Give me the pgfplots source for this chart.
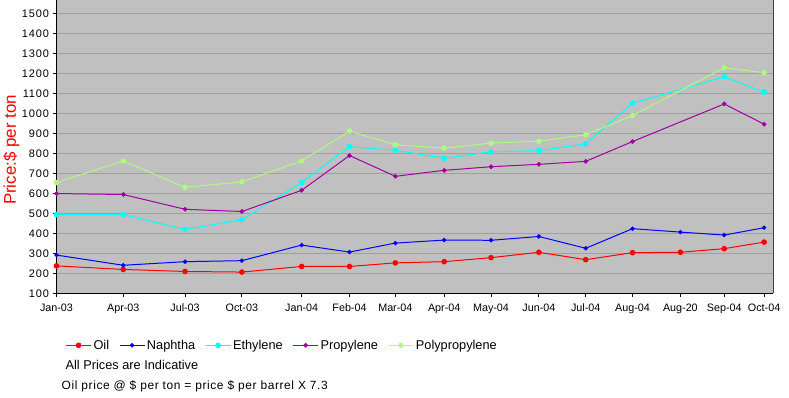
\documentclass[border=0pt]{standalone}
\usepackage{pgfplots}
\pgfplotsset{compat=1.18}
\usepackage{fontspec}
\setmainfont{Liberation Sans}
\newfontfamily\lsfont[LetterSpace=8]{Liberation Sans}
\newfontfamily\lsbfont[LetterSpace=5]{Liberation Sans}
\definecolor{bg}{RGB}{192,192,192}
\definecolor{gridc}{RGB}{160,160,160}
\definecolor{oilc}{RGB}{255,0,0}
\definecolor{napc}{RGB}{0,0,255}
\definecolor{ethc}{RGB}{0,255,255}
\definecolor{proc}{RGB}{160,0,160}
\definecolor{polc}{RGB}{176,250,128}
\begin{document}
\begin{tikzpicture}
\begin{axis}[
  scale only axis,
  width=719pt, height=294pt,
  xmin=54, xmax=773,
  ymin=100, ymax=1566,
  axis background/.style={fill=bg},
  axis x line*=bottom, axis y line*=left,
  axis line style={black, line width=0.9pt},
  xtick={54,121,183,240,300,348,394,443,490,538,585,632,680,724,764},
  xticklabels={Jan-03,Apr-03,Jul-03,Oct-03,Jan-04,Feb-04,Mar-04,Apr-04,May-04,Jun-04,Jul-04,Aug-04,Aug-20,Sep-04,Oct-04},
  ytick={100,200,...,1500},
  tick align=outside,
  major tick length=4pt,
  tick style={black, line width=0.8pt},
  ymajorgrids,
  grid style={gridc, line width=0.9pt},
  xticklabel style={font=\fontsize{10.8}{12}\selectfont, yshift=-3pt},
  yticklabel style={font=\lsfont\fontsize{11}{12}\selectfont},
  /pgf/number format/assume math mode=true,
  /pgf/number format/1000 sep={},
  ylabel={Price:\$ per ton},
  ylabel style={font=\fontsize{17}{19}\selectfont, text=red, at={(axis description cs:-0.063,0.49)}, anchor=center},
  legend columns=5,
  legend style={draw=none, fill=none, at={(axis description cs:0.0083,-0.177)}, anchor=west,
    font=\fontsize{12.8}{14}\selectfont,
    /tikz/every even column/.append style={column sep=8pt}},
  legend cell align=left,
  legend image code/.code={\draw[#1] (0pt,0pt) -- (25pt,0pt); \draw[#1, mark repeat=2, mark phase=2] plot coordinates {(0pt,0pt) (12.5pt,0pt) (25pt,0pt)};},
  clip=false,
]
\addplot[oilc, line width=1pt, mark=*, mark size=2.3pt] coordinates {
(54,238) (121,220) (183,210) (240,207) (300,235) (348,235) (394,253) (443,259) (490,279) (538,306) (585,269) (632,304) (680,306) (724,324) (764,357)};
\addlegendentry{Oil}
\addplot[napc, line width=1pt, mark=*, mark size=1.7pt] coordinates {
(54,292) (121,241) (183,259) (240,264) (300,342) (348,307) (394,352) (443,367) (490,366) (538,385) (585,326) (632,424) (680,407) (724,392) (764,429)};
\addlegendentry{Naphtha}
\addplot[ethc, line width=1pt, mark=*, mark size=2.3pt] coordinates {
(54,495) (121,495) (183,420) (240,469) (300,655) (348,834) (394,817) (443,776) (490,809) (538,814) (585,849) (632,1052) (724,1184) (764,1108)};
\addlegendentry{Ethylene}
\addplot[proc, line width=1pt, mark=*, mark size=1.8pt] coordinates {
(54,600) (121,595) (183,521) (240,510) (300,616) (348,790) (394,686) (443,716) (490,734) (538,746) (585,761) (632,860) (724,1048) (764,947)};
\addlegendentry{Propylene}
\addplot[polc, line width=1pt, mark=*, mark size=2.2pt] coordinates {
(54,655) (121,763) (183,631) (240,658) (300,763) (348,912) (394,844) (443,827) (490,852) (538,862) (585,894) (632,990) (724,1229) (764,1204)};
\addlegendentry{Polypropylene}
\draw[gray!50!black, line width=0.9pt] (rel axis cs:1,0) -- (rel axis cs:1,1);
\node[anchor=west, font=\fontsize{12.8}{14}\selectfont, inner sep=0pt] at (axis description cs:0.0125,-0.245) {All Prices are Indicative};
\node[anchor=west, font=\lsbfont\fontsize{12}{13}\selectfont, inner sep=0pt] at (axis description cs:0.007,-0.318) {Oil price @ \$ per ton = price \$ per barrel X 7.3};
\end{axis}
\path[use as bounding box] (-54pt,-104pt) rectangle (735pt,294pt);
\end{tikzpicture}
\end{document}
